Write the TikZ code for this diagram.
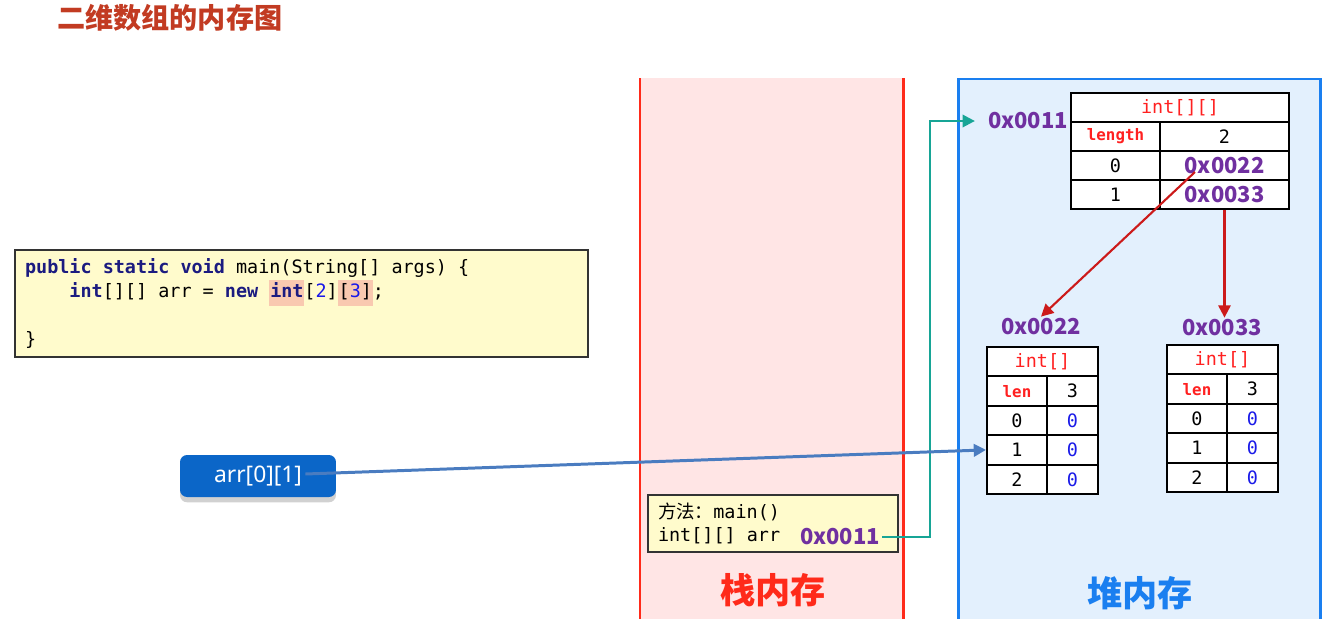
\documentclass[tikz,border=0pt]{standalone}
\usepackage{fontspec}
\setmainfont{Noto Sans}
\newfontfamily\cjk{Noto Sans CJK SC}
\newfontfamily\codefont{DejaVu Sans Mono}
\usetikzlibrary{arrows.meta, positioning, shadows}

\definecolor{titlered}{HTML}{C23B22}
\definecolor{stackpink}{HTML}{FFE5E5}
\definecolor{stackred}{HTML}{FF2A1A}
\definecolor{heapblue}{HTML}{E3F0FD}
\definecolor{heapline}{HTML}{1A7FF0}
\definecolor{noteyellow}{HTML}{FFFBCC}
\definecolor{addrpurple}{HTML}{7030A0}
\definecolor{linkteal}{HTML}{17A596}
\definecolor{linkred}{HTML}{CC1A1A}
\definecolor{linkblue}{HTML}{4A7CC0}
\definecolor{btnblue}{HTML}{0B66C8}
\definecolor{tabred}{HTML}{FF2020}
\definecolor{zeroblue}{HTML}{1A1AE8}
\definecolor{kwnavy}{HTML}{1B1B80}
\definecolor{hlsalmon}{HTML}{F9C9B0}

\newcommand\codesize[1]{\codefont\fontsize{10.5}{#1}\selectfont}
\newcommand\kw[1]{\textbf{{\color{kwnavy}#1}}}
\newcommand\dg[1]{{\color{zeroblue}#1}}
\newcommand\hlbox[1]{{\setlength{\fboxsep}{0.5pt}\colorbox{hlsalmon}{\strut #1}}}

\begin{document}
\begin{tikzpicture}[
    x=0.02cm, y=-0.02cm,
    cell/.style={draw=black, line width=1.1pt, fill=white, inner sep=0pt,
        minimum height=0.58cm, font=\codesize{12}},
    subcell/.style={cell, minimum height=0.588cm},
    keycell/.style={text=tabred, font=\codefont\bfseries\fontsize{9}{11}\selectfont},
    addr/.style={text=addrpurple, inner sep=1pt, font=\cjk\bfseries\fontsize{12.5}{14}\selectfont},
    note/.style={draw=black!80, line width=0.7pt, fill=noteyellow, align=left,
        execute at begin node={\spaceskip=6.32pt\relax\xspaceskip=6.32pt\relax}},
    btn/.style={rounded corners=4pt, fill=btnblue, text=white, minimum width=3.12cm,
        minimum height=0.84cm, font=\fontsize{13}{15}\selectfont,
        drop shadow={shadow xshift=0pt, shadow yshift=-3pt, fill=black!18, opacity=1}},
    area/.style={font=\cjk\bfseries\fontsize{20}{24}\selectfont},
    ptr/.style={-{Triangle[length=7pt, width=7pt]}}
]
\useasboundingbox (0,0) rectangle (1323,619);

% title
\node[anchor=west, inner sep=0pt, text=titlered, font=\cjk\bfseries\fontsize{16}{19}\selectfont]
    (title) at (57,18) {二维数组的内存图};

% stack and heap areas
\fill[stackpink] (640,78) rectangle (903,619);
\draw[stackred, line width=1.7pt] (640,78) -- (640,619) (903,78) -- (903,619);
\fill[heapblue] (958,79) rectangle (1320,619);
\draw[heapline, line width=1.7pt] (958,619) |- (1320,79) -- (1320,619);
\node[area, text=stackred] (stacklbl) at (773,590) {栈内存};
\node[area, text=heapline] (heaplbl) at (1140,593) {堆内存};

% code
\node[note, minimum width=11.46cm, minimum height=2.14cm, text width=11.06cm,
    inner xsep=0.2cm, font=\codesize{13.66}]
    (code) at (301.5,303.5)
    {\kw{public static void} main(String[] args) \{\\
     \phantom{1234}\kw{int}[][] arr = \kw{new} \hlbox{\kw{int}}[\dg{2}]\hlbox{[\dg{3}]};\\
     ~\\
     \}};

% stack frame
\node[note, minimum width=5cm, minimum height=1.14cm, text width=4.6cm, inner xsep=0.2cm,
    font=\codesize{13}]
    (frame) at (773,523.5) {{\cjk 方法：}main()\\int[][] arr};
\node[addr] (f11) at (840,537) {0x0011};

% int[][] object
\node[addr] (h11) at (1028,121) {0x0011};
\node[cell, minimum width=4.36cm, text=tabred] (Thd) at (1180,107.5) {int[][]};
\node[cell, keycell, minimum width=1.78cm] (Tlen) at (1115.5,136.5) {length};
\node[cell, minimum width=2.58cm] (Tlenv) at (1224.5,136.5) {2};
\node[cell, minimum width=1.78cm] (T0) at (1115.5,165.5) {0};
\node[cell, addr, inner sep=0pt, minimum width=2.58cm] (T0v) at (1224.5,165.5) {0x0022};
\node[cell, minimum width=1.78cm] (T1) at (1115.5,194.5) {1};
\node[cell, addr, inner sep=0pt, minimum width=2.58cm] (T1v) at (1224.5,194.5) {0x0033};

% int[] objects
\node[addr] (lA) at (1041,327) {0x0022};
\node[addr] (lB) at (1222,328) {0x0033};
\foreach \n/\x/\y in {A/987/347, B/1167/345} {
    \node[subcell, minimum width=2.22cm, text=tabred] (\n-hd) at ({\x+55.5},{\y+14.7}) {int[]};
    \node[subcell, keycell, minimum width=1.2cm] (\n-len) at ({\x+30},{\y+44.1}) {len};
    \node[subcell, minimum width=1.02cm] (\n-lenv) at ({\x+85.5},{\y+44.1}) {3};
    \foreach \i in {0,1,2} {
        \node[subcell, minimum width=1.2cm] (\n-\i) at ({\x+30},{\y+14.7+29.4*(\i+2)}) {\i};
        \node[subcell, minimum width=1.02cm, text=zeroblue] (\n-\i-v) at ({\x+85.5},{\y+14.7+29.4*(\i+2)}) {0};
    }
}

% variable
\node[btn] (btn) at (258,476) {arr[0][1]};

% references
\coordinate (tbend) at (930,0);
\draw[ptr, linkteal, line width=1.4pt, shorten >=0.22cm] (f11.east) -- (f11.east -| tbend) |- (h11.west);
\draw[ptr, linkred, line width=1.2pt] ([xshift=-0.59cm, yshift=-0.13cm]T0v.center) -- (lA.north);
\draw[ptr, linkred, line width=1.2pt] (T1v.south) -- (lB.north -| T1v.south);
\draw[ptr, linkblue, line width=1.7pt] ([xshift=-0.62cm, yshift=0.04cm]btn.east) -- (A-1.west);
\end{tikzpicture}
\end{document}
